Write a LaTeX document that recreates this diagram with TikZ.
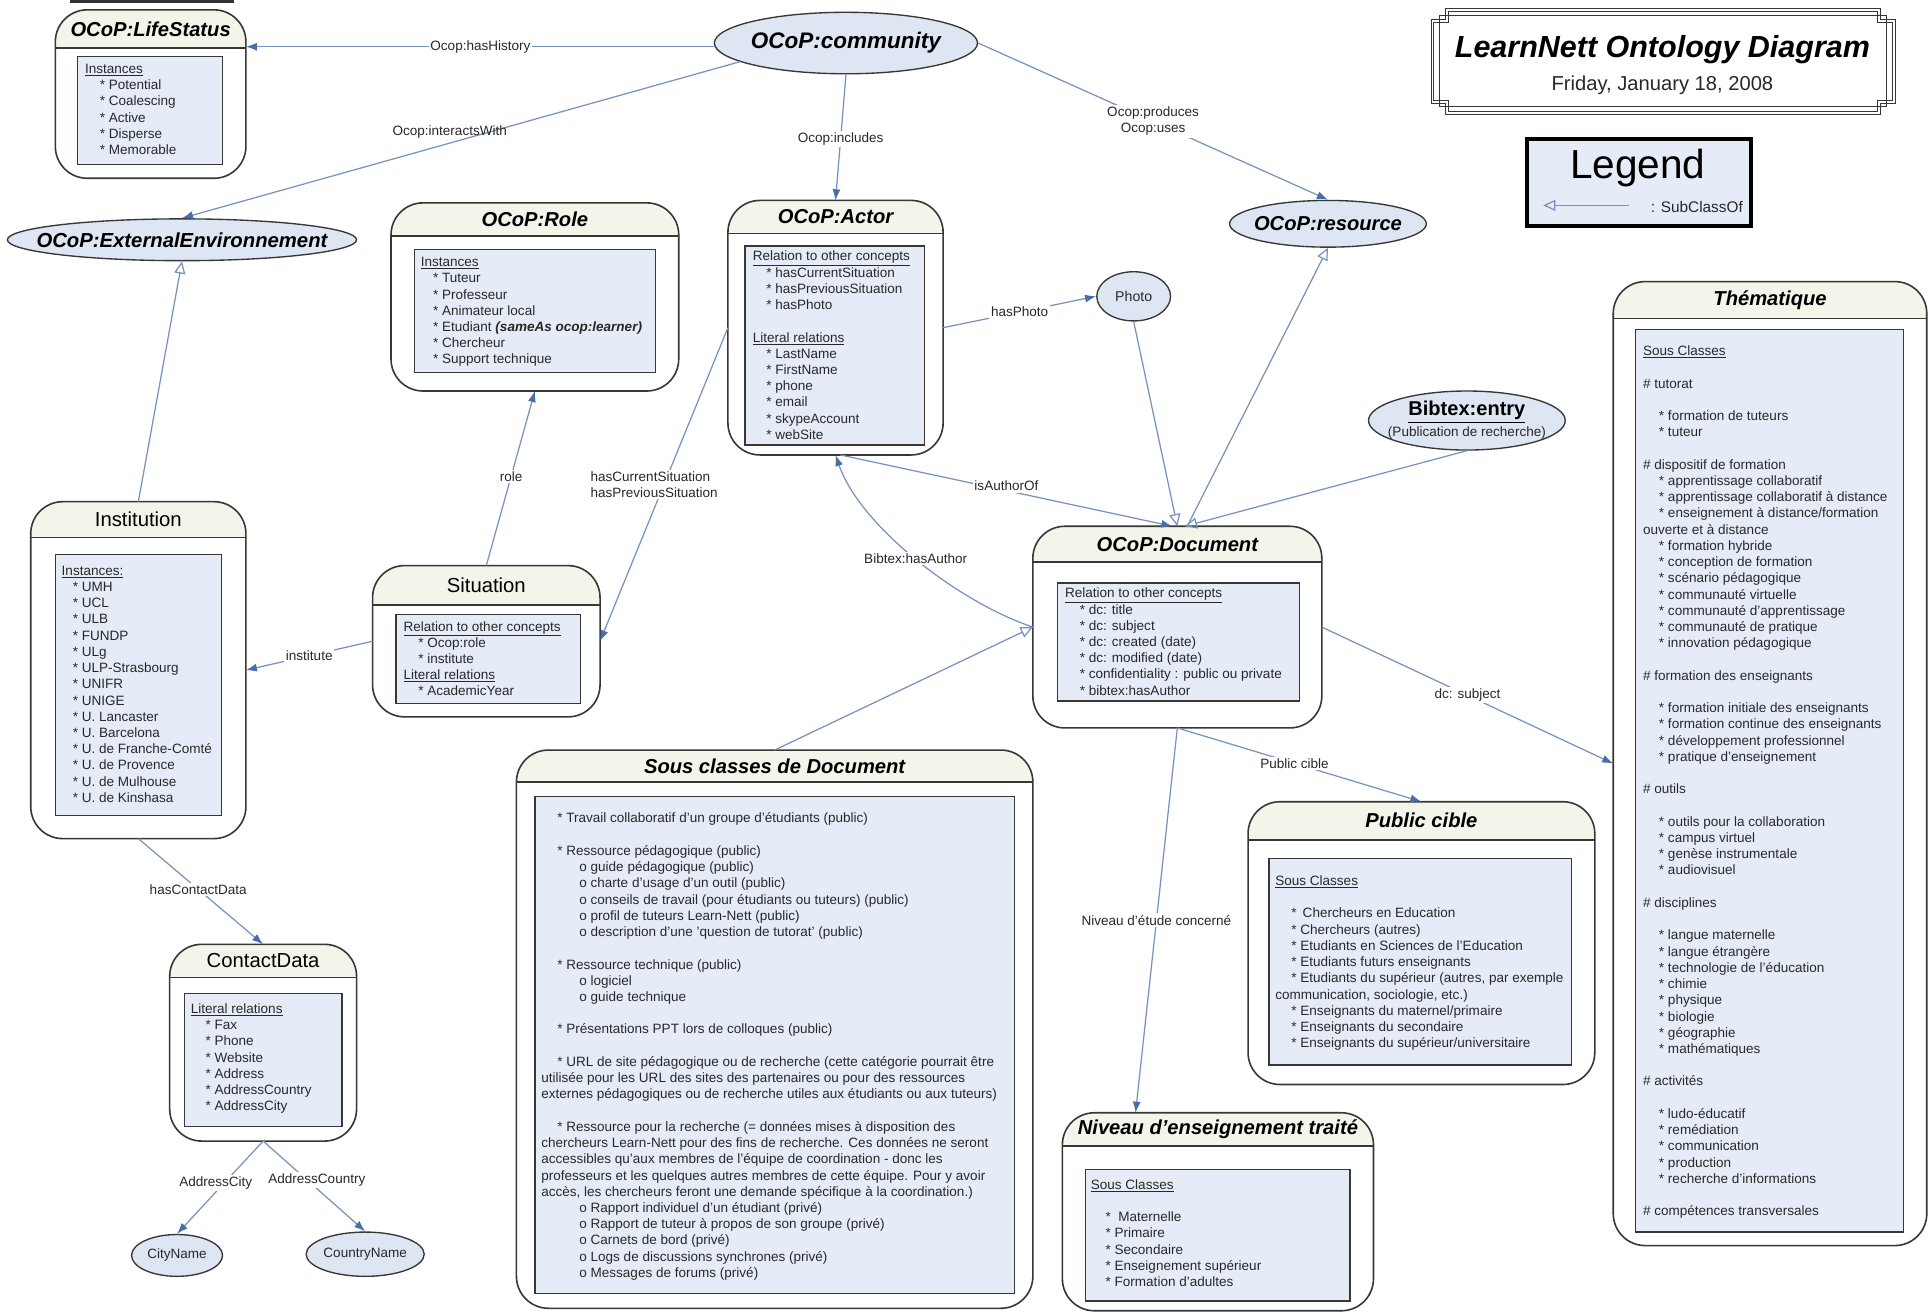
\documentclass[tikz,border=0pt]{standalone}
\usepackage{fontspec}
\setmainfont{Liberation Sans}
\usetikzlibrary{arrows.meta,calc,shapes.geometric}
\definecolor{connc}{RGB}{118,146,190}
\definecolor{arrc}{RGB}{72,110,170}
\definecolor{boxc}{RGB}{55,55,55}
\definecolor{headc}{RGB}{244,244,234}
\definecolor{innerc}{RGB}{229,236,247}
\definecolor{ellc}{RGB}{222,230,243}
\definecolor{txtc}{RGB}{40,40,40}
\newcommand{\myind}[1]{\hspace*{#1pt}}
\tikzset{
  outerbox/.style={fill=white, rounded corners=26pt, inner sep=0pt, outer sep=0pt, draw=none},
  boxline/.style={draw=boxc, line width=1.3pt},
  headfill/.style={fill=headc},
  innerbox/.style={draw=boxc, line width=1.1pt, fill=innerc, inner sep=0pt, outer sep=0pt},
  bodytext/.style={font=\fontsize{11}{13.2}\selectfont, text=txtc, align=left, inner sep=0pt, anchor=north west},
  titlebi/.style={font=\fontsize{16.4}{19}\selectfont\bfseries\itshape, text=black, inner sep=0pt},
  titlerg/.style={font=\fontsize{16.5}{19}\selectfont, text=black, inner sep=0pt},
  ell/.style={ellipse, draw=boxc, line width=1.1pt, fill=ellc, inner sep=0pt},
  conn/.style={draw=connc, line width=1pt},
  arr/.style={conn, -{Latex[length=9pt, width=6.5pt, color=arrc]}},
  sub/.style={conn, -{Triangle[open, length=10pt, width=9pt, color=connc]}},
  lbl/.style={font=\fontsize{11}{13}\selectfont, text=txtc, fill=white, inner sep=1.5pt},
}
% name x1 y1 x2 y2 yheader title titlestyle
\newcommand{\ubox}[8]{%
  \node[outerbox, minimum width={#4-#2}, minimum height={#5-#3}] (#1) at ({(#2+#4)/2},{(#3+#5)/2}) {};
  \begin{scope}
    \clip (#2,#3) rectangle (#4,#6);
    \fill[headfill, rounded corners=26pt] (#2,#3) rectangle (#4,#5);
  \end{scope}
  \draw[boxline] (#2,#6) -- (#4,#6);
  \draw[boxline, rounded corners=26pt] (#2,#3) rectangle (#4,#5);
  \node[#8] (#1-title) at ({(#2+#4)/2},{(#3+#6)/2}) {#7};
}
\newcommand{\ibox}[5]{%
  \node[innerbox, minimum width={#4-#2}, minimum height={#5-#3}] (#1) at ({(#2+#4)/2},{(#3+#5)/2}) {};
}
\begin{document}
\begin{tikzpicture}[x=1pt, y=-1pt]
\fill[white] (0,0) rectangle (1568,1068);
\useasboundingbox (0,0) rectangle (1568,1068);
\fill[black!80] (57,0) rectangle (190,2.5);

% ---------- LifeStatus
\ubox{life}{45}{8}{200}{145}{39}{OCoP:LifeStatus}{titlebi}
\ibox{lifein}{63}{46}{181}{134}
\node[bodytext] (lifetxt) at (69,52) {\underline{Instances}\\
\myind{12}* Potential\\
\myind{12}* Coalescing\\
\myind{12}* Active\\
\myind{12}* Disperse\\
\myind{12}* Memorable};

% ---------- Role
\ubox{role}{318}{165}{552}{318}{192}{OCoP:Role}{titlebi}
\ibox{rolein}{337}{203}{533}{303}
\node[bodytext] (roletxt) at (342,209) {\underline{Instances}\\
\myind{10}* Tuteur\\
\myind{10}* Professeur\\
\myind{10}* Animateur local\\
\myind{10}* Etudiant \textbf{\textit{(sameAs ocop:learner)}}\\
\myind{10}* Chercheur\\
\myind{10}* Support technique};

% ---------- Actor
\ubox{act}{592}{163}{767}{370}{190}{OCoP:Actor}{titlebi}
\ibox{actin}{606}{200}{752}{362}
\node[bodytext] (acttxt) at (612,204) {\underline{Relation to other concepts}\\
\myind{11}* hasCurrentSituation\\
\myind{11}* hasPreviousSituation\\
\myind{11}* hasPhoto\\[13.2pt]
\underline{Literal relations}\\
\myind{11}* LastName\\
\myind{11}* FirstName\\
\myind{11}* phone\\
\myind{11}* email\\
\myind{11}* skypeAccount\\
\myind{11}* webSite};

% ---------- Institution
\ubox{inst}{25}{408}{200}{682}{437}{Institution}{titlerg}
\ibox{instin}{45}{451}{180}{663}
\node[bodytext] (insttxt) at (50,460) {\underline{Instances:}\\
\myind{9}* UMH\\
\myind{9}* UCL\\
\myind{9}* ULB\\
\myind{9}* FUNDP\\
\myind{9}* ULg\\
\myind{9}* ULP-Strasbourg\\
\myind{9}* UNIFR\\
\myind{9}* UNIGE\\
\myind{9}* U. Lancaster\\
\myind{9}* U. Barcelona\\
\myind{9}* U. de Franche-Comté\\
\myind{9}* U. de Provence\\
\myind{9}* U. de Mulhouse\\
\myind{9}* U. de Kinshasa};

% ---------- Situation
\ubox{sit}{303}{460}{488}{583}{492}{Situation}{titlerg}
\ibox{sitin}{322}{500}{472}{572}
\node[bodytext] (sittxt) at (328,505) {\underline{Relation to other concepts}\\
\myind{12}* Ocop:role\\
\myind{12}* institute\\
\underline{Literal relations}\\
\myind{12}* AcademicYear};

% ---------- Document
\ubox{doc}{840}{428}{1075}{592}{457}{OCoP:Document}{titlebi}
\ibox{docin}{860}{474}{1057}{570}
\node[bodytext] (doctxt) at (866,478) {\underline{Relation to other concepts}\\
\myind{12}* dc: title\\
\myind{12}* dc: subject\\
\myind{12}* dc: created (date)\\
\myind{12}* dc: modified (date)\\
\myind{12}* confidentiality : public ou private\\
\myind{12}* bibtex:hasAuthor};

% ---------- ContactData
\ubox{cd}{138}{768}{290}{928}{795}{ContactData}{titlerg}
\ibox{cdin}{150}{808}{278}{916}
\node[bodytext] (cdtxt) at (155,816) {\underline{Literal relations}\\
\myind{12}* Fax\\
\myind{12}* Phone\\
\myind{12}* Website\\
\myind{12}* Address\\
\myind{12}* AddressCountry\\
\myind{12}* AddressCity};

% ---------- Sous classes de Document
\ubox{scd}{420}{610}{840}{1064}{636}{Sous classes de Document}{titlebi}
\ibox{scdin}{435}{648}{825}{1052}
\node[bodytext] (scdtxt) at (440,661) {\myind{13}* Travail collaboratif d'un groupe d'étudiants (public)\\[13.2pt]
\myind{13}* Ressource pédagogique (public)\\
\myind{31}o guide pédagogique (public)\\
\myind{31}o charte d'usage d'un outil (public)\\
\myind{31}o conseils de travail (pour étudiants ou tuteurs) (public)\\
\myind{31}o profil de tuteurs Learn-Nett (public)\\
\myind{31}o description d'une 'question de tutorat' (public)\\[13.2pt]
\myind{13}* Ressource technique (public)\\
\myind{31}o logiciel\\
\myind{31}o guide technique\\[13.2pt]
\myind{13}* Présentations PPT lors de colloques (public)\\[13.2pt]
\myind{13}* URL de site pédagogique ou de recherche (cette catégorie pourrait être\\
utilisée pour les URL des sites des partenaires ou pour des ressources\\
externes pédagogiques ou de recherche utiles aux étudiants ou aux tuteurs)\\[13.2pt]
\myind{13}* Ressource pour la recherche (= données mises à disposition des\\
chercheurs Learn-Nett pour des fins de recherche. Ces données ne seront\\
accessibles qu'aux membres de l'équipe de coordination - donc les\\
professeurs et les quelques autres membres de cette équipe. Pour y avoir\\
accès, les chercheurs feront une demande spécifique à la coordination.)\\
\myind{31}o Rapport individuel d'un étudiant (privé)\\
\myind{31}o Rapport de tuteur à propos de son groupe (privé)\\
\myind{31}o Carnets de bord (privé)\\
\myind{31}o Logs de discussions synchrones (privé)\\
\myind{31}o Messages de forums (privé)};

% ---------- Public cible
\ubox{pub}{1015}{652}{1297}{882}{683}{Public cible}{titlebi}
\ibox{pubin}{1032}{698}{1278}{866}
\node[bodytext] (pubtxt) at (1037,712) {\underline{Sous Classes}\\[13.2pt]
\myind{13}*\hspace{5pt}Chercheurs en Education\\
\myind{13}* Chercheurs (autres)\\
\myind{13}* Etudiants en Sciences de l'Education\\
\myind{13}* Etudiants futurs enseignants\\
\myind{13}* Etudiants du supérieur (autres, par exemple\\
communication, sociologie, etc.)\\
\myind{13}* Enseignants du maternel/primaire\\
\myind{13}* Enseignants du secondaire\\
\myind{13}* Enseignants du supérieur/universitaire};

% ---------- Niveau
\ubox{niv}{864}{905}{1117}{1066}{932}{Niveau d’enseignement traité}{titlebi}
\ibox{nivin}{883}{951}{1098}{1058}
\node[bodytext] (nivtxt) at (887,959) {\underline{Sous Classes}\\[13.2pt]
\myind{12}*\hspace{6pt}Maternelle\\
\myind{12}* Primaire\\
\myind{12}* Secondaire\\
\myind{12}* Enseignement supérieur\\
\myind{12}* Formation d'adultes};

% ---------- Thematique
\ubox{them}{1312}{229}{1567}{1013}{259}{Thématique}{titlebi}
\ibox{themin}{1330}{268}{1548}{1002}
\node[bodytext] (themtxt) at (1336,281) {\underline{Sous Classes}\\[13.2pt]
\# tutorat\\[13.2pt]
\myind{13}* formation de tuteurs\\
\myind{13}* tuteur\\[13.2pt]
\# dispositif de formation\\
\myind{13}* apprentissage collaboratif\\
\myind{13}* apprentissage collaboratif à distance\\
\myind{13}* enseignement à distance/formation\\
ouverte et à distance\\
\myind{13}* formation hybride\\
\myind{13}* conception de formation\\
\myind{13}* scénario pédagogique\\
\myind{13}* communauté virtuelle\\
\myind{13}* communauté d'apprentissage\\
\myind{13}* communauté de pratique\\
\myind{13}* innovation pédagogique\\[13.2pt]
\# formation des enseignants\\[13.2pt]
\myind{13}* formation initiale des enseignants\\
\myind{13}* formation continue des enseignants\\
\myind{13}* développement professionnel\\
\myind{13}* pratique d'enseignement\\[13.2pt]
\# outils\\[13.2pt]
\myind{13}* outils pour la collaboration\\
\myind{13}* campus virtuel\\
\myind{13}* genèse instrumentale\\
\myind{13}* audiovisuel\\[13.2pt]
\# disciplines\\[13.2pt]
\myind{13}* langue maternelle\\
\myind{13}* langue étrangère\\
\myind{13}* technologie de l'éducation\\
\myind{13}* chimie\\
\myind{13}* physique\\
\myind{13}* biologie\\
\myind{13}* géographie\\
\myind{13}* mathématiques\\[13.2pt]
\# activités\\[13.2pt]
\myind{13}* ludo-éducatif\\
\myind{13}* remédiation\\
\myind{13}* communication\\
\myind{13}* production\\
\myind{13}* recherche d'informations\\[13.2pt]
\# compétences transversales};

% ---------- Ellipses
\node[ell, minimum width=214, minimum height=50] (comm) at (688,35) {};
\node[font=\fontsize{18.3}{21}\selectfont\bfseries\itshape, inner sep=0] (commtxt) at (comm) {OCoP:community};
\node[ell, minimum width=284, minimum height=34] (ext) at (148,195) {};
\node[font=\fontsize{16.5}{19}\selectfont\bfseries\itshape, inner sep=0] (exttxt) at (ext) {OCoP:ExternalEnvironnement};
\node[ell, minimum width=160, minimum height=38] (res) at (1080,182) {};
\node[font=\fontsize{16.4}{19}\selectfont\bfseries\itshape, inner sep=0] (restxt) at (res) {OCoP:resource};
\node[ell, minimum width=60, minimum height=40] (photo) at (922,241) {};
\node[font=\fontsize{11.5}{13}\selectfont, text=txtc, inner sep=0] (phototxt) at (photo) {Photo};
\node[ell, minimum width=160, minimum height=48] (bib) at (1193,342) {};
\node[font=\fontsize{16.3}{18}\selectfont\bfseries, inner sep=0] (bibtxt) at (1193,335) {\underline{Bibtex:entry}};
\node[font=\fontsize{11}{13}\selectfont, text=txtc, inner sep=0] (bibsub) at (1193,352) {(Publication de recherche)};
\node[ell, minimum width=74, minimum height=34] (city) at (144,1021) {};
\node[font=\fontsize{11}{13}\selectfont, text=txtc, inner sep=0] (citytxt) at (city) {CityName};
\node[ell, minimum width=96, minimum height=36] (country) at (297,1020) {};
\node[font=\fontsize{11}{13}\selectfont, text=txtc, inner sep=0] (countrytxt) at (country) {CountryName};

% ---------- Title frame
\draw[boxc, line width=0.8pt, double=white, double distance=1.5pt]
  (1177,8) -- (1528,8) -- (1528,17) -- (1540,17) -- (1540,83) -- (1528,83) -- (1528,92)
  -- (1177,92) -- (1177,83) -- (1165,83) -- (1165,17) -- (1177,17) -- cycle;
\draw[boxc, line width=0.8pt] (1171,13) rectangle (1534,87);
\node[font=\fontsize{24.8}{28}\selectfont\bfseries\itshape, inner sep=0] (ttl) at (1352,40) {LearnNett Ontology Diagram};
\node[font=\fontsize{16.4}{19}\selectfont, text=txtc, inner sep=0] (date) at (1352,69) {Friday, January 18, 2008};

% ---------- Legend
\node[draw=black, line width=3pt, fill=innerc, minimum width=182, minimum height=71, inner sep=0] (legend) at (1333,148.5) {};
\node[font=\fontsize{33}{36}\selectfont, inner sep=0] (legendt) at (1332,137) {Legend};
\node[font=\fontsize{12.5}{14}\selectfont, text=txtc, inner sep=0] (legsub) at (1380,168) {: SubClassOf};
\coordinate (lgA) at (1325,167);
\coordinate (lgB) at (1255,167);
\draw[sub] (lgA) -- (lgB);

% ---------- Connectors
\draw[arr] ($(comm.west)+(1,3)$) -- ($(comm.west -| life.east)+(0,3)$) node[lbl, pos=0.5] {Ocop:hasHistory};
\draw[arr] (comm.190) -- (ext.north) node[lbl, fill=none, pos=0.52, above=2pt] {Ocop:interactsWith};
\draw[arr] (comm.south) -- (act.north) node[lbl, pos=0.51] {Ocop:includes};
\draw[arr] (comm.east) -- (res.north) node[lbl, pos=0.5, align=center] {Ocop:produces\\Ocop:uses};
\draw[sub] (inst.north) -- (ext.south);
\draw[arr] (act.east) -- (photo.west) node[lbl, pos=0.5] {hasPhoto};
\draw[arr] (act.west) -- (sit.east) node[lbl, pos=0.5, xshift=-8pt, align=left] {hasCurrentSituation\\hasPreviousSituation};
\draw[arr] (sit.north) -- (role.south) node[lbl, pos=0.51] {role};
\draw[arr] (sit.west) -- (inst.east) node[lbl, pos=0.5] {institute};
\draw[arr] (inst.south) -- (cd.north) node[lbl, pos=0.48] {hasContactData};
\draw[arr] (cd.south) -- (city.north) node[lbl, pos=0.45, xshift=-7pt] {AddressCity};
\draw[arr] (cd.south) -- (country.north) node[lbl, pos=0.43, xshift=8pt] {AddressCountry};
\draw[arr] ($(act.south)+(4,0)$) -- ($(doc.north)+(-4,0)$) node[lbl, pos=0.5, yshift=4pt] {isAuthorOf};
\draw[arr] (doc.west) .. controls +(-60,-20) and +(20,58) .. (act.south) node[lbl, pos=0.5] {Bibtex:hasAuthor};
\draw[sub] (scd.north) -- (doc.west);
\draw[sub] (photo.south) -- (doc.north);
\draw[sub] ($(doc.north)+(8,0)$) -- (res.south);
\draw[sub] (bib.south) -- ($(doc.north)+(6,0)$);
\draw[arr] (doc.east) -- (them.west) node[lbl, pos=0.5] {dc: subject};
\draw[arr] (doc.south) -- (pub.north) node[lbl, pos=0.48] {Public cible};
\draw[arr] (doc.south) -- ($(niv.north)+(-67,0)$) node[lbl, pos=0.5] {Niveau d’étude concerné};
\end{tikzpicture}
\end{document}
